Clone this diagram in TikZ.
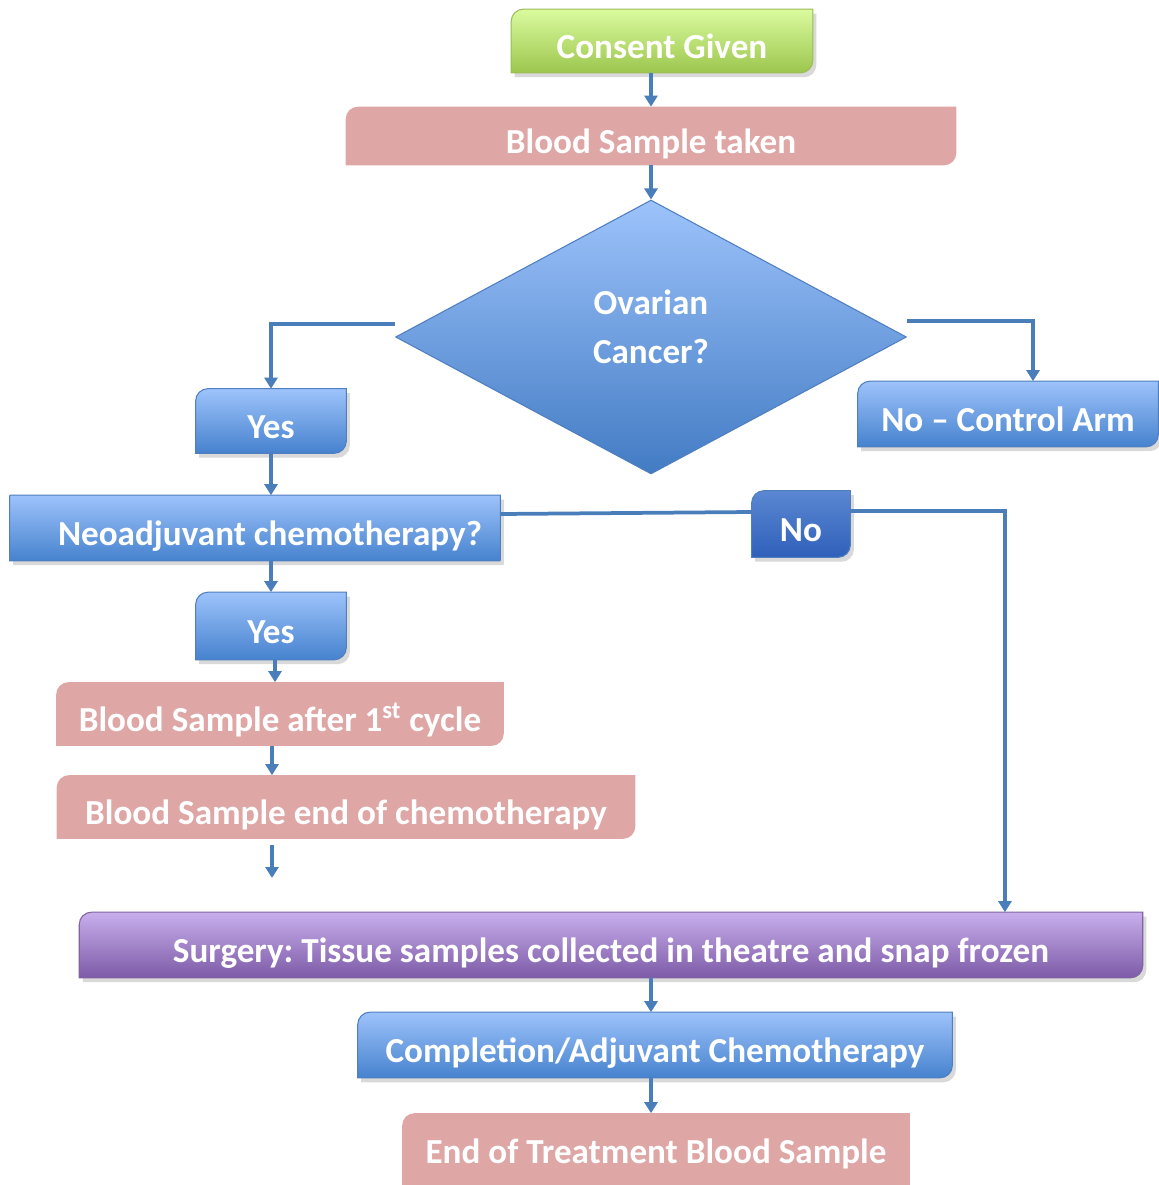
\documentclass[tikz,border=0pt]{standalone}
\usepackage{fontspec}
\setmainfont{Carlito}
\usetikzlibrary{positioning,arrows.meta,shapes.geometric,shadows,backgrounds}
\definecolor{bluetop}{HTML}{9DC3FB}
\definecolor{bluebot}{HTML}{4682CE}
\definecolor{blueedge}{HTML}{4F7FBF}
\definecolor{deeptop}{HTML}{5B87D2}
\definecolor{deepbot}{HTML}{2F60BA}
\definecolor{greentop}{HTML}{DBFB9E}
\definecolor{greenbot}{HTML}{9CC64E}
\definecolor{greenedge}{HTML}{9BBB59}
\definecolor{pinkfill}{HTML}{DFA6A6}
\definecolor{violettop}{HTML}{C8AFEC}
\definecolor{violetbot}{HTML}{7D5AA7}
\definecolor{violetedge}{HTML}{8064A2}
\definecolor{wire}{HTML}{4A7EBB}
\tikzset{
  card/.style={inner sep=0pt, align=center, text=white, text height=0.8cm, text depth=0.1cm,
               font=\fontsize{20}{24}\selectfont\bfseries},
  shade/.style={drop shadow={shadow xshift=2pt, shadow yshift=-2.5pt, opacity=0.3}},
  bluecard/.style={shade, top color=bluetop, bottom color=bluebot, draw=blueedge, line width=0.6pt},
  deepcard/.style={shade, top color=deeptop, bottom color=deepbot, draw=blueedge, line width=0.6pt},
  greencard/.style={shade, top color=greentop, bottom color=greenbot, draw=greenedge, line width=0.6pt},
  pinkcard/.style={fill=pinkfill},
  violetcard/.style={shade, top color=violettop, bottom color=violetbot, draw=violetedge, line width=0.6pt},
  flow/.style={-{Triangle[length=0.22cm,width=0.26cm]}, draw=wire, line width=0.075cm},
  wireline/.style={draw=wire, line width=0.075cm},
}

\begin{document}
\begin{tikzpicture}[x=0.02cm, y=-0.02cm]
    \useasboundingbox (0,0) rectangle (1158,1185);

    \node[card, minimum width=6.02cm, minimum height=1.26cm] (consent) at (662,41)  {Consent Given};
    \node[card, minimum width=12.2cm, minimum height=1.16cm] (taken)   at (651,136) {Blood Sample taken};
    \node[diamond, inner sep=0pt, align=center, text=white, text depth=0.4cm,
          minimum width=10.22cm, minimum height=5.48cm,
          top color=bluetop, bottom color=bluebot!95!black, draw=blueedge, line width=0.6pt,
          font=\fontsize{20}{28}\selectfont\bfseries] (ov) at (651,337) {Ovarian\\Cancer?};
    \node[card, minimum width=6.0cm, minimum height=1.3cm]  (ctrl)  at (1008,414) {No -- Control Arm};
    \node[card, minimum width=3.0cm, minimum height=1.28cm] (yesA)  at (271,421)  {Yes};
    \node[card, minimum width=9.8cm, minimum height=1.3cm]  (neo)   at (255,528)  {\hspace{0.6cm}Neoadjuvant chemotherapy?};
    \node[card, minimum width=1.96cm, minimum height=1.32cm] (nobox) at (801,524) {No};
    \node[card, minimum width=3.0cm, minimum height=1.34cm] (yesB)  at (271,626)  {Yes};
    \node[card, minimum width=8.94cm, minimum height=1.26cm] (first) at (280,714) {Blood Sample after 1\textsuperscript{st} cycle};
    \node[card, minimum width=11.56cm, minimum height=1.26cm] (endchemo) at (346,807) {Blood Sample end of chemotherapy};
    \node[card, minimum width=21.26cm, minimum height=1.3cm] (surgery) at (611,945)
         {Surgery:\ Tissue samples collected in theatre and snap frozen};
    \node[card, minimum width=11.88cm, minimum height=1.3cm] (compl) at (655,1045)
         {Completion/Adjuvant Chemotherapy};
    \node[card, minimum width=10.14cm, minimum height=1.3cm] (treat) at (656,1146)
         {End of Treatment Blood Sample};
    \coordinate (gapA) at (272,845);
    \coordinate (gapB) at (272,878);

    % card bodies, rounded on two opposite corners
    \begin{scope}[on background layer]
      \foreach \n/\s/\r in {consent/greencard/7pt, taken/pinkcard/7pt, ctrl/bluecard/7pt,
                            yesA/bluecard/7pt, neo/bluecard/0.5pt, nobox/deepcard/7pt,
                            yesB/bluecard/7pt, first/pinkcard/7pt, endchemo/pinkcard/7pt,
                            surgery/violetcard/7pt, compl/bluecard/7pt}
        \path[\s] (\n.north east) -- ([yshift=\r]\n.south east)
              arc[start angle=0, end angle=-90, radius=\r] -- (\n.south west)
              -- ([yshift=-\r]\n.north west) arc[start angle=180, end angle=90, radius=\r] -- cycle;
      % last card runs off the bottom edge
      \path[pinkcard] (treat.north east) -- ([yshift=-0.3cm]treat.south east)
              -- ([yshift=-0.3cm]treat.south west) -- ([yshift=-7pt]treat.north west)
              arc[start angle=180, end angle=90, radius=7pt] -- cycle;
    \end{scope}

    \draw[flow] (taken.north |- consent.south) -- (taken.north);
    \draw[flow] (taken.south) -- (ov.north);
    \draw[flow] ([yshift=0.26cm]ov.west) -| (yesA.north);
    \draw[flow] ([yshift=0.32cm]ov.east) -| ([xshift=0.5cm]ctrl.north);
    \draw[flow] (yesA.south) -- (yesA.south |- neo.north);
    \draw[wireline] ([yshift=0.28cm]neo.east) -- ([yshift=0.24cm]nobox.west);
    \draw[flow] ([yshift=0.26cm]nobox.east) -| ([xshift=7.88cm]surgery.north);
    \draw[flow] (yesA.south |- neo.south) -- (yesB.north);
    \draw[flow] ([xshift=0.08cm]yesB.south) -- ([xshift=0.08cm]yesB.south |- first.north);
    \draw[flow] (first.south -| gapA) -- (gapA |- endchemo.north);
    \draw[flow] (gapA) -- (gapB);
    \draw[flow] (taken.south |- surgery.south) -- (taken.south |- compl.north);
    \draw[flow] (taken.south |- compl.south) -- (taken.south |- treat.north);
\end{tikzpicture}
\end{document}
